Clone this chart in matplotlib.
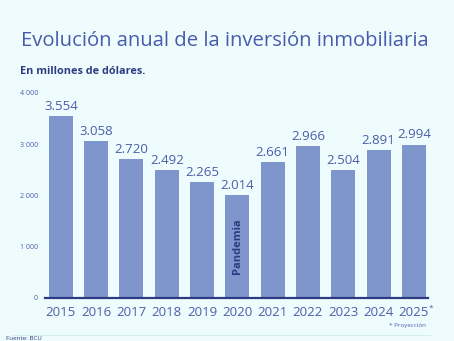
import matplotlib
matplotlib.use("Agg")
import matplotlib.pyplot as plt
from matplotlib.transforms import offset_copy

years = ["2015", "2016", "2017", "2018", "2019", "2020", "2021", "2022", "2023", "2024", "2025*"]
investment = [3554, 3058, 2720, 2492, 2265, 2014, 2661, 2966, 2504, 2891, 2994]
y_ticks = [0, 1000, 2000, 3000, 4000]
y_tick_labels = ["0", "1 000", "2 000", "3 000", "4 000"]

BG = "#eefcfd"
BAR = "#7e96cc"
TEXT = "#4c5daa"
DARK = "#2e3b82"

plt.rcParams["font.family"] = ["Open Sans", "DejaVu Sans"]

fig = plt.figure(figsize=(4.54, 3.41), dpi=100, facecolor=BG)
ax = fig.add_axes([45 / 454, 43 / 341, 383 / 454, 205 / 341], facecolor=BG)

x = list(range(len(years)))
ax.bar(x, investment, width=0.68, color=BAR, zorder=2)

for xi, v in zip(x, investment):
    label = f"{v:,}".replace(",", ".")
    ax.text(xi, v + 60, label, ha="center", va="bottom", fontsize=9.5,
            color=TEXT, zorder=3)

ax.text(5, 1020, "Pandemia", rotation=90, ha="center", va="center",
        fontsize=8, fontweight="bold", color=DARK, zorder=3)

ax.set_xlim(-0.45, 10.4)
ax.set_ylim(0, 4000)
ax.set_xticks(x)
ax.set_xticklabels([y.rstrip("*") for y in years], fontsize=9.5, color=TEXT)
ax.set_yticks(y_ticks)
ax.set_yticklabels(y_tick_labels, fontsize=5, color=TEXT)
ax.tick_params(axis="x", length=0, pad=6)
ax.tick_params(axis="y", length=0, pad=5)

# small asterisk after projected years
for xi, y in zip(x, years):
    if y.endswith("*"):
        tr = offset_copy(ax.get_xaxis_transform(), fig=fig, x=10.9, y=-5.0, units="points")
        ax.text(xi, 0, "*", transform=tr, ha="left", va="top", fontsize=6,
                color=TEXT)

for side in ("top", "right", "left"):
    ax.spines[side].set_visible(False)
ax.spines["bottom"].set_color(DARK)
ax.spines["bottom"].set_linewidth(1.6)

fig.text(225 / 454, 1 - 41 / 341, "Evolución anual de la inversión inmobiliaria",
         ha="center", va="center", fontsize=14.6, color="#4a5bab")
fig.text(20 / 454, 1 - 71 / 341, "En millones de dólares.", ha="left", va="center",
         fontsize=7.8, fontweight="bold", color=DARK)
fig.text(426 / 454, 1 - 326 / 341, "* Proyección", ha="right", va="center",
         fontsize=4.5, color=TEXT)

fig.add_artist(plt.Line2D([12 / 454, 430 / 454], [1 - 335 / 341, 1 - 335 / 341],
                          color="#d4eef2", linewidth=0.8))
fig.text(6 / 454, 0.5 / 341, "Fuente: BCU", ha="left", va="bottom",
         fontsize=4.5, color=DARK)

fig.savefig("out.png", dpi=100, facecolor=BG)
